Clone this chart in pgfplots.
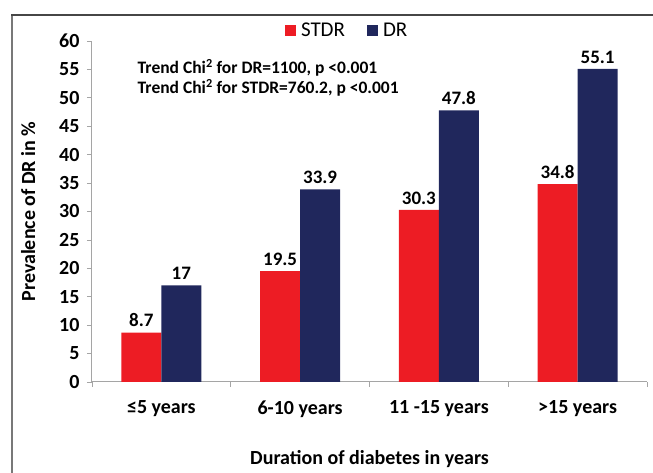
\documentclass[border=0pt]{standalone}
\usepackage{pgfplots}
\pgfplotsset{compat=1.18}
\usepackage{fontspec}
\setmainfont{Carlito}
\definecolor{stdr}{RGB}{237,28,36}
\definecolor{dr}{RGB}{32,39,92}
\definecolor{axgray}{RGB}{165,165,165}
\definecolor{framegray}{RGB}{120,120,120}
\definecolor{framedark}{RGB}{70,70,70}
\begin{document}
\begin{tikzpicture}
\begin{axis}[
  name=ax, scale only axis, width=555pt, height=341pt,
  ybar=0pt, bar width=40pt,
  xmin=-0.5, xmax=3.5, ymin=0, ymax=60,
  ytick={0,5,...,60},
  xtick={0,1,2,3},
  xticklabels={≤5 years, 6-10 years, 11 -15 years, >15 years},
  axis x line*=bottom, axis y line*=left,
  axis line style={axgray, line width=1pt},
  tick align=outside, major tick length=5pt,
  ytick style={draw=axgray, line width=0.8pt},
  xtick style={draw=none},
  extra x ticks={-0.5,0.5,1.5,2.5,3.5},
  extra x tick labels={},
  extra x tick style={xtick style={draw=axgray, line width=0.8pt}},
  /pgf/number format/assume math mode=true,
  ticklabel style={font=\bfseries\fontsize{20}{23}\selectfont},
  xticklabel style={yshift=-10pt},
  yticklabel style={xshift=-4pt},
  ylabel={Prevalence of DR in \%},
  ylabel style={font=\bfseries\fontsize{20}{24}\selectfont, at={(axis description cs:-0.115,0.5)}, anchor=center},
  xlabel={Duration of diabetes in years},
  xlabel style={font=\bfseries\fontsize{20}{24}\selectfont, at={(axis description cs:0.5,-0.226)}, anchor=center},
  nodes near coords,
  nodes near coords style={font=\bfseries\fontsize{19}{22}\selectfont, text=black, yshift=2pt},
  legend style={at={(0.342,1.032)}, anchor=west, draw=none, fill=none, legend columns=2,
    font=\fontsize{21}{24}\selectfont,
    /tikz/every odd column/.append style={column sep=3pt},
    /tikz/every even column/.append style={column sep=20pt}},
  legend image code/.code={\fill[#1] (0pt,-5.5pt) rectangle (11pt,5.5pt);},
]
\addplot[fill=stdr, draw=none] coordinates {(0,8.7) (1,19.5) (2,30.3) (3,34.8)};
\addplot[fill=dr, draw=none] coordinates {(0,17) (1,33.9) (2,47.8) (3,55.1)};
\legend{STDR, DR}
\node[anchor=west, font=\bfseries\fontsize{17.5}{20}\selectfont] at (rel axis cs:0.076,0.921) {Trend Chi\textsuperscript{2} for DR=1100, p <0.001};
\node[anchor=west, font=\bfseries\fontsize{17.5}{20}\selectfont] at (rel axis cs:0.076,0.862) {Trend Chi\textsuperscript{2} for STDR=760.2, p <0.001};
\end{axis}
\draw[line width=1.6pt, framegray] ([shift={(-80pt,-120pt)}]ax.south west) -- ([shift={(-80pt,26.8pt)}]ax.north west);
\draw[line width=1.6pt, framedark] ([shift={(-80.8pt,26pt)}]ax.north west) -- ([shift={(10pt,26pt)}]ax.north east);
\pgfresetboundingbox
\path[use as bounding box] ([shift={(-92pt,-91pt)}]ax.south west) rectangle ([shift={(561pt,382pt)}]ax.south west);
\end{tikzpicture}
\end{document}
